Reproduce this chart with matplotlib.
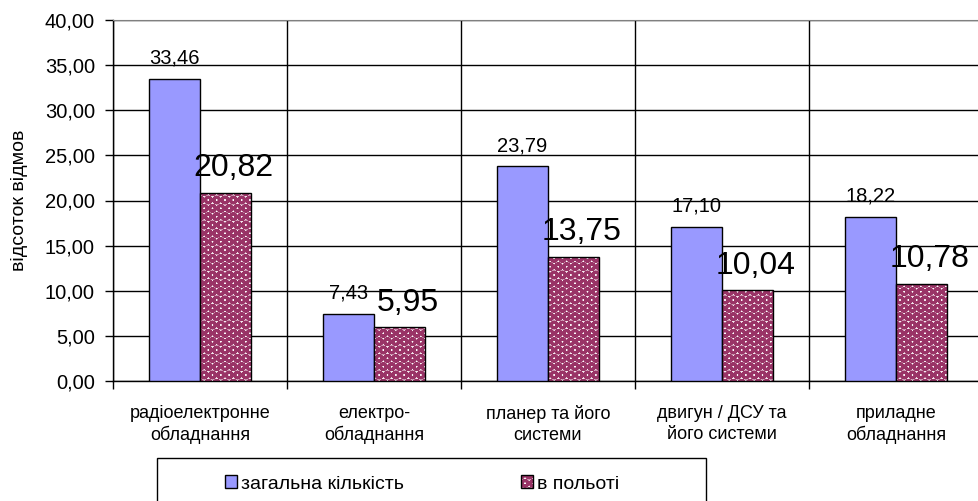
import matplotlib
matplotlib.use("Agg")
import matplotlib.pyplot as plt
from matplotlib.patches import Rectangle
from matplotlib.legend_handler import HandlerTuple
import numpy as np

categories = ["радіоелектронне\nобладнання", "електро-\nобладнання",
              "планер та його\nсистеми", "двигун / ДСУ та\nйого системи",
              "приладне\nобладнання"]
total = [33.46, 7.43, 23.79, 17.10, 18.22]
in_flight = [20.82, 5.95, 13.75, 10.04, 10.78]
series_names = ["загальна кількість", "в польоті"]
y_ticks = [0, 5, 10, 15, 20, 25, 30, 35, 40]

plt.rcParams['font.family'] = ['Liberation Sans', 'DejaVu Sans']
plt.rcParams['hatch.linewidth'] = 2.2

W, H = 979, 501
fig = plt.figure(figsize=(W / 100, H / 100), dpi=100)
ax = fig.add_axes([113 / W, 1 - 381 / H, 870 / W, 361 / H])

blue = '#9999FF'
maroon = '#993366'
x = np.arange(len(categories))
w = 0.293

b1 = ax.bar(x - w / 2, total, w, color=blue, edgecolor='black', linewidth=1.0, zorder=3)
b2h = ax.bar(x + w / 2, in_flight, w, facecolor='white', edgecolor=maroon,
             hatch='OO', linewidth=0, zorder=3)
b2e = ax.bar(x + w / 2, in_flight, w, fill=False, edgecolor='black', linewidth=1.0, zorder=4)

for xi, v in zip(x - w / 2, total):
    ax.annotate(f"{v:.2f}".replace('.', ','), (xi, v), xytext=(0, 8),
                textcoords='offset points', ha='center', va='bottom', fontsize=14.5)
for xi, v in zip(x + w / 2, in_flight):
    ax.annotate(f"{v:.2f}".replace('.', ','), (xi, v), xytext=(6, 7),
                textcoords='offset points', ha='center', va='bottom', fontsize=23)

ax.set_xlim(-0.5, len(categories) - 0.5)
ax.set_ylim(0, 40)
ax.set_yticks(y_ticks)
ax.set_yticklabels([f"{t:.2f}".replace('.', ',') for t in y_ticks], fontsize=14.5)
ax.set_xticks(x)
ax.set_xticklabels(categories, fontsize=13, linespacing=1.3)
ax.set_xticks(np.arange(len(categories) + 1) - 0.5, minor=True)
ax.tick_params(axis='x', which='major', length=0, pad=17)
ax.tick_params(axis='x', which='minor', length=6, direction='out', width=1)
ax.tick_params(axis='y', length=6, direction='out', width=1, pad=7)
ax.grid(axis='y', color='black', linewidth=1.0, zorder=1)
ax.grid(axis='x', which='minor', color='black', linewidth=1.0, zorder=1)
ax.set_axisbelow(True)
for s in ['left', 'bottom']:
    ax.spines[s].set_color('black')
    ax.spines[s].set_linewidth(1.0)
ax.spines['top'].set_color('#808080')
ax.spines['right'].set_visible(False)
ax.set_ylabel("відсоток відмов", fontsize=14, va='center')
ax.yaxis.set_label_coords(20 / W, 1 - 200.5 / H, transform=fig.transFigure)

leg = fig.legend([b1, (b2h, b2e)], series_names, ncol=2, loc='center left',
                 bbox_to_anchor=(215 / W, 1 - 484 / H), frameon=False, fontsize=14,
                 borderpad=0, handlelength=0.65, handleheight=0.65, handletextpad=0.2,
                 columnspacing=6.0, handler_map={tuple: HandlerTuple(ndivide=1)})
rect = Rectangle((157 / W, -0.05), 549 / W, 0.05 + (501 - 458) / H,
                 transform=fig.transFigure, fill=False, edgecolor='black',
                 linewidth=1.0, clip_on=False)
fig.add_artist(rect)

fig.savefig("out.png", dpi=100)
